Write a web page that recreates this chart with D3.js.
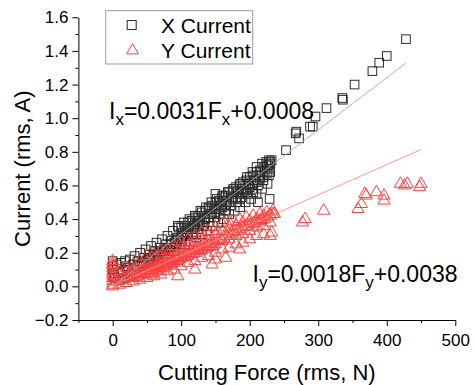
<!DOCTYPE html>
<html>
<head>
<meta charset="utf-8">
<script src="https://cdn.jsdelivr.net/npm/d3@7"></script>
<style>
  html, body { margin: 0; padding: 0; background: #fff; }
  svg { display: block; font-family: "Liberation Sans", Arial, sans-serif; }
</style>
</head>
<body>
<svg id="chart" width="475" height="385"></svg>
<script>
// ---------------- data ----------------
const xTickValues = [0, 100, 200, 300, 400, 500];
const xMinorTicks = [-50, 50, 150, 250, 350, 450];
const yTickValues = [-0.2, 0.0, 0.2, 0.4, 0.6, 0.8, 1.0, 1.2, 1.4, 1.6];
const yMinorTicks = [-0.1, 0.1, 0.3, 0.5, 0.7, 0.9, 1.1, 1.3, 1.5];

const seriesNames = ["X Current", "Y Current"];

// X current: cutting force (N) and current (A)
const xForce = [
  0, 1, 0, 2, 1, 3,
  6, 12, 18, 25, 32, 40, 48, 56, 64, 72, 80, 88, 96, 104, 112, 120, 128, 136, 144, 152, 160, 168, 176, 186, 196, 204, 210, 218, 224, 228, 232, 230, 227,
  8, 15, 22, 30, 38, 46, 54, 62, 70, 78, 86, 94, 102, 110, 118, 126, 134, 142, 150, 158, 166, 174, 182, 190, 198, 206, 214, 222, 229,
  10, 18, 26, 34, 42, 50, 58, 66, 74, 82, 90, 98, 106, 114, 122, 130, 138, 146, 154, 162, 170, 178, 186, 194, 202, 210, 218, 226,
  20, 36, 52, 68, 84, 100, 116, 132, 148, 164, 180, 196, 212, 228, 45, 60, 76, 92, 108, 124, 140, 156, 172, 188, 204, 220,
  100, 105, 110, 115, 120, 125, 130, 135, 140, 145, 150, 155, 160, 165, 170, 175, 180, 185, 190, 195, 200, 205, 210, 215, 220, 225, 230,
  40, 45, 50, 55, 60, 65, 70, 75, 80, 85, 90, 95, 100, 105, 110, 115, 120, 125, 130, 135, 140, 145, 150, 155, 160, 165, 170, 175, 180, 185, 190, 195, 200, 205, 210, 215, 220, 225, 230,
  212, 229, 205, 186, 160, 140, 120, 95, 150,
  253, 268, 267, 272, 288, 292, 296, 312, 335, 336, 353, 379, 389, 400, 428
];
const xCurrent = [
  0.15, 0.12, 0.10, 0.08, 0.06, 0.05,
  0.13, 0.14, 0.15, 0.16, 0.18, 0.20, 0.22, 0.24, 0.26, 0.28, 0.30, 0.33, 0.35, 0.38, 0.40, 0.42, 0.45, 0.47, 0.50, 0.52, 0.54, 0.56, 0.58, 0.61, 0.65, 0.68, 0.71, 0.73, 0.74, 0.75, 0.75, 0.73, 0.72,
  0.08, 0.09, 0.11, 0.13, 0.15, 0.17, 0.19, 0.21, 0.23, 0.25, 0.27, 0.29, 0.32, 0.34, 0.36, 0.39, 0.41, 0.43, 0.46, 0.48, 0.51, 0.53, 0.56, 0.58, 0.61, 0.63, 0.66, 0.68, 0.70,
  0.04, 0.05, 0.07, 0.08, 0.10, 0.12, 0.13, 0.15, 0.17, 0.19, 0.21, 0.23, 0.25, 0.27, 0.29, 0.31, 0.33, 0.36, 0.38, 0.40, 0.43, 0.45, 0.47, 0.50, 0.52, 0.55, 0.58, 0.61,
  0.12, 0.12, 0.16, 0.19, 0.23, 0.27, 0.31, 0.36, 0.41, 0.45, 0.50, 0.55, 0.60, 0.66, 0.14, 0.18, 0.21, 0.25, 0.30, 0.34, 0.38, 0.43, 0.48, 0.53, 0.58, 0.63,
  0.35, 0.36, 0.38, 0.39, 0.41, 0.42, 0.44, 0.45, 0.47, 0.48, 0.50, 0.51, 0.53, 0.54, 0.56, 0.57, 0.59, 0.60, 0.62, 0.63, 0.65, 0.66, 0.68, 0.69, 0.71, 0.72, 0.74,
  0.12, 0.13, 0.15, 0.16, 0.17, 0.19, 0.20, 0.22, 0.23, 0.25, 0.26, 0.28, 0.29, 0.31, 0.32, 0.34, 0.35, 0.37, 0.38, 0.40, 0.41, 0.43, 0.44, 0.46, 0.47, 0.49, 0.50, 0.52, 0.53, 0.55, 0.56, 0.58, 0.59, 0.61, 0.62, 0.64, 0.65, 0.67, 0.68,
  0.50, 0.52, 0.56, 0.52, 0.50, 0.46, 0.38, 0.36, 0.55,
  0.81, 0.92, 0.91, 0.88, 0.95, 0.95, 1.01, 1.06, 1.12, 1.11, 1.20, 1.28, 1.33, 1.37, 1.47
];

// Y current
const yForce = [
  0, 0, 0, 0, 0, 0, 0, 0, 0, 1, 1,
  10, 20, 30, 40, 50, 60, 70, 80, 90, 100, 110, 120, 130, 140, 150, 160, 170, 176, 185, 195, 205, 215, 225, 234,
  6, 10, 14, 18, 22, 26, 30, 34, 38, 42, 46, 50, 54, 58, 62, 66, 70, 74, 78, 82, 86, 90, 94, 98, 102, 106, 110, 114, 118, 122, 126, 130, 134, 138, 142, 146, 150, 154, 158, 162, 166, 170, 174, 178, 182, 186, 190, 194, 198, 202, 206, 210, 214, 218, 222, 226, 230, 234, 236,
  30, 34, 38, 42, 46, 50, 54, 58, 62, 66, 70, 74, 78, 82, 86, 90, 94, 98, 102, 106, 110, 114, 118, 122, 126, 130, 134, 138, 142, 146, 150, 160, 170, 180, 190, 200, 210, 220, 230,
  20, 30, 40, 50, 60, 70, 80, 90, 100, 110, 120, 130, 140, 150, 160, 170, 180, 190, 200, 210, 220, 230,
  55, 60, 65, 70, 75, 80, 85, 90, 94,
  10, 20, 30, 40, 50, 60, 70, 80, 90, 100, 110, 120, 130, 140, 150, 160, 170, 180, 190, 200, 210, 220, 232, 230,
  145, 150, 165, 185, 120, 95,
  277, 281, 308, 358, 363, 370, 385, 368, 396, 396, 420, 430, 450, 426, 448
];
const yCurrent = [
  0.15, 0.13, 0.11, 0.09, 0.07, 0.05, 0.03, 0.01, 0.00, 0.12, 0.06,
  0.09, 0.11, 0.13, 0.15, 0.18, 0.19, 0.21, 0.22, 0.24, 0.26, 0.28, 0.30, 0.32, 0.33, 0.35, 0.37, 0.38, 0.39, 0.40, 0.41, 0.42, 0.43, 0.44, 0.45,
  0.03, 0.035, 0.04, 0.05, 0.055, 0.06, 0.07, 0.075, 0.08, 0.09, 0.095, 0.10, 0.11, 0.115, 0.12, 0.13, 0.135, 0.14, 0.15, 0.155, 0.16, 0.17, 0.175, 0.18, 0.19, 0.195, 0.20, 0.21, 0.215, 0.22, 0.23, 0.235, 0.24, 0.25, 0.255, 0.26, 0.27, 0.275, 0.28, 0.29, 0.30, 0.31, 0.32, 0.325, 0.33, 0.34, 0.35, 0.355, 0.36, 0.37, 0.375, 0.38, 0.39, 0.395, 0.40, 0.41, 0.42, 0.43, 0.43,
  0.05, 0.055, 0.06, 0.07, 0.075, 0.08, 0.09, 0.095, 0.10, 0.11, 0.115, 0.12, 0.13, 0.135, 0.14, 0.15, 0.155, 0.16, 0.17, 0.175, 0.18, 0.19, 0.195, 0.20, 0.21, 0.215, 0.22, 0.23, 0.235, 0.24, 0.25, 0.27, 0.28, 0.30, 0.31, 0.33, 0.35, 0.36, 0.38,
  0.08, 0.10, 0.12, 0.14, 0.16, 0.17, 0.19, 0.21, 0.23, 0.24, 0.26, 0.28, 0.30, 0.31, 0.33, 0.35, 0.36, 0.38, 0.39, 0.40, 0.42, 0.43,
  0.07, 0.08, 0.09, 0.10, 0.11, 0.12, 0.13, 0.14, 0.15,
  0.01, 0.02, 0.03, 0.04, 0.05, 0.06, 0.07, 0.09, 0.10, 0.12, 0.14, 0.15, 0.17, 0.18, 0.20, 0.22, 0.23, 0.25, 0.26, 0.28, 0.30, 0.31, 0.32, 0.30,
  0.13, 0.16, 0.17, 0.22, 0.10, 0.06,
  0.38, 0.40, 0.45, 0.46, 0.49, 0.54, 0.56, 0.55, 0.51, 0.54, 0.61, 0.61, 0.61, 0.60, 0.59
];

// linear fits shown on the chart
const fitSlope = [0.0031, 0.0018];
const fitIntercept = [0.0008, 0.0038];
const fitRange = [[0, 428], [0, 450]];

// ---------------- drawing ----------------
const svg = d3.select("#chart");
const x = d3.scaleLinear().domain([-50, 500]).range([78.4, 455.3]);
const y = d3.scaleLinear().domain([-0.2, 1.6]).range([320, 17.3]);

const squareColor = "#2a2a2a";
const triColor = "#ff4040";

// axes
const axisFont = "17px";
const gx = svg.append("g").attr("transform", `translate(0,${y(-0.2)})`);
gx.call(d3.axisBottom(x).tickValues(xTickValues).tickSize(6).tickSizeOuter(0).tickPadding(8).tickFormat(d3.format("d")));
const gxm = svg.append("g").attr("transform", `translate(0,${y(-0.2)})`);
gxm.call(d3.axisBottom(x).tickValues(xMinorTicks).tickSize(3).tickSizeOuter(0).tickFormat(""));
gxm.select(".domain").remove();

const gy = svg.append("g").attr("transform", `translate(${x(-50)},0)`);
gy.call(d3.axisLeft(y).tickValues(yTickValues).tickSize(6).tickSizeOuter(0).tickPadding(4).tickFormat(d3.format(".1f")));
const gym = svg.append("g").attr("transform", `translate(${x(-50)},0)`);
gym.call(d3.axisLeft(y).tickValues(yMinorTicks).tickSize(3).tickSizeOuter(0).tickFormat(""));
gym.select(".domain").remove();

svg.selectAll(".tick text").attr("font-size", axisFont).attr("font-family", "Liberation Sans, Arial, sans-serif").attr("fill", "#000");
svg.selectAll(".domain, .tick line").attr("stroke", "#000").attr("stroke-width", 1);

// axis titles
svg.append("text")
  .attr("x", (x(-50) + x(500)) / 2).attr("y", 380)
  .attr("text-anchor", "middle").attr("font-size", "22px")
  .text("Cutting Force (rms, N)");
svg.append("text")
  .attr("transform", `translate(30,${(y(-0.2) + y(1.6)) / 2}) rotate(-90)`)
  .attr("text-anchor", "middle").attr("font-size", "22px")
  .text("Current (rms, A)");

// points
const xData = xForce.map((f, i) => [f, xCurrent[i]]);
const yData = yForce.map((f, i) => [f, yCurrent[i]]);
const sq = 8.6;
svg.append("g").selectAll("rect").data(xData).join("rect")
  .attr("x", d => x(d[0]) - sq / 2).attr("y", d => y(d[1]) - sq / 2)
  .attr("width", sq).attr("height", sq)
  .attr("fill", "none").attr("stroke", squareColor).attr("stroke-width", 1);

const tri = d3.symbol().type(d3.symbolTriangle).size(64);
svg.append("g").selectAll("path").data(yData).join("path")
  .attr("d", tri)
  .attr("transform", d => `translate(${x(d[0])},${y(d[1])})`)
  .attr("fill", "none").attr("stroke", triColor).attr("stroke-width", 1);

// fit lines
const fitColors = ["#aaaaaa", "#ff8c8c"];
fitSlope.forEach((m, i) => {
  const [a, b] = fitRange[i];
  svg.append("line")
    .attr("x1", x(a)).attr("y1", y(m * a + fitIntercept[i]))
    .attr("x2", x(b)).attr("y2", y(m * b + fitIntercept[i]))
    .attr("stroke", fitColors[i]).attr("stroke-width", 0.9);
});

// equations
function equation(xp, yp, sub, slope, icpt) {
  const t = svg.append("text").attr("x", xp).attr("y", yp).attr("font-size", "23px");
  t.append("tspan").text("I");
  t.append("tspan").attr("font-size", "17px").attr("dy", 6).text(sub);
  t.append("tspan").attr("dy", -6).text("=" + slope + "F");
  t.append("tspan").attr("font-size", "17px").attr("dy", 6).text(sub);
  t.append("tspan").attr("dy", -6).text("+" + icpt);
}
equation(109, 118.5, "x", "0.0031", "0.0008");
equation(252.5, 282, "y", "0.0018", "0.0038");

// legend
svg.append("rect").attr("x", 105.7).attr("y", 10.7).attr("width", 147).attr("height", 53.3)
  .attr("fill", "#fff").attr("stroke", "#999").attr("stroke-width", 1);
svg.append("rect").attr("x", 131.7 - 4.5).attr("y", 25 - 4.5).attr("width", 9).attr("height", 9)
  .attr("fill", "none").attr("stroke", squareColor);
svg.append("path").attr("d", d3.symbol().type(d3.symbolTriangle).size(60)())
  .attr("transform", "translate(132.5,50.5)").attr("fill", "none").attr("stroke", triColor);
svg.append("text").attr("x", 161).attr("y", 33.3).attr("font-size", "21px").text(seriesNames[0]);
svg.append("text").attr("x", 161).attr("y", 58.3).attr("font-size", "21px").text(seriesNames[1]);
</script>
</body>
</html>
